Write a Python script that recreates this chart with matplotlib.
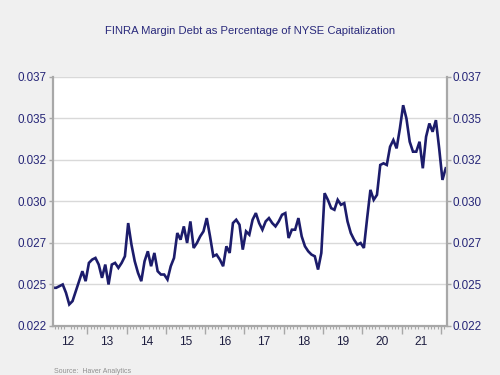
import matplotlib
matplotlib.use("Agg")
import matplotlib.pyplot as plt
import numpy as np
import pandas as pd

# monthly ratio, Feb 2012 .. Feb 2022
start_month = "2012-02"
margin_ratio = [
    0.0248, 0.0248, 0.0249, 0.0250, 0.0245, 0.0238, 0.0240, 0.0246, 0.0252, 0.0258, 0.0252,
    0.0263, 0.0265, 0.0266, 0.0262, 0.0254, 0.0262, 0.0250, 0.0262, 0.0263, 0.0260, 0.0263, 0.0267,
    0.0287, 0.0274, 0.0264, 0.0257, 0.0252, 0.0264, 0.0270, 0.0261, 0.0269, 0.0258, 0.0256, 0.0256,
    0.0253, 0.0261, 0.0266, 0.0281, 0.0277, 0.0285, 0.0275, 0.0288, 0.0272, 0.0275, 0.0279, 0.0282,
    0.0290, 0.0279, 0.0267, 0.0268, 0.0265, 0.0261, 0.0273, 0.0269, 0.0287, 0.0289, 0.0286, 0.0271,
    0.0282, 0.0280, 0.0289, 0.0293, 0.0287, 0.0283, 0.0288, 0.0290, 0.0287, 0.0285, 0.0288, 0.0292,
    0.0293, 0.0278, 0.0283, 0.0283, 0.0290, 0.0279, 0.0273, 0.0270, 0.0268, 0.0267, 0.0259, 0.0269,
    0.0305, 0.0301, 0.0296, 0.0295, 0.0301, 0.0298, 0.0299, 0.0288, 0.0281, 0.0277, 0.0274, 0.0275,
    0.0272, 0.0290, 0.0307, 0.0301, 0.0304, 0.0322, 0.0323, 0.0322, 0.0333, 0.0337, 0.0332, 0.0344,
    0.0358, 0.0350, 0.0336, 0.0330, 0.0330, 0.0336, 0.0320, 0.0339, 0.0347, 0.0342, 0.0349, 0.0332,
    0.0313, 0.0320,
]
y_ticks = [0.0225, 0.025, 0.0275, 0.030, 0.0325, 0.035, 0.0375]
y_labels = ["0.022", "0.025", "0.027", "0.030", "0.032", "0.035", "0.037"]
years = list(range(2012, 2022))
year_labels = ["12", "13", "14", "15", "16", "17", "18", "19", "20", "21"]

dates = pd.date_range(start_month, periods=len(margin_ratio), freq="MS")
t = dates.year + (dates.month - 0.5) / 12.0

navy = "#1c1c6b"
label_col = "#262678"
axis_gray = "#a8a8a8"

plt.rcParams["font.family"] = ["Liberation Sans", "DejaVu Sans"]

fig = plt.figure(figsize=(5, 3.75), dpi=100, facecolor="#f0f0f0")
ax = fig.add_axes([0.1054, 0.1307, 0.788, 0.664])
ax.set_facecolor("white")

ax.plot(t, margin_ratio, color=navy, lw=1.9, solid_joinstyle="miter")

# y axis, both sides
ax.set_yticks(y_ticks)
ax.set_yticklabels(y_labels)
ax.tick_params(axis="y", which="both", left=True, right=True, labelleft=True,
               labelright=True, length=3, width=1, color=axis_gray,
               labelsize=8.4, labelcolor=label_col, pad=1.5)
ax.grid(axis="y", color="#d9d9d9", lw=1)
ax.set_axisbelow(True)

# x axis: labels in middle of each year, monthly minor ticks
ax.set_xticks([y + 0.5 for y in years])
ax.set_xticklabels(year_labels)
ax.set_xticks(np.arange(2012, 2022.2, 1 / 12.0), minor=True)
ax.tick_params(axis="x", which="major", length=0, labelsize=8.6,
               labelcolor="#1e1e40", pad=7)
ax.tick_params(axis="x", which="minor", length=2.5, width=0.8, color=axis_gray)

sec = ax.secondary_xaxis("bottom")
sec.set_xticks(list(range(2013, 2023)))
sec.tick_params(length=6, width=1, color=axis_gray, labelbottom=False)
sec.spines["bottom"].set_visible(False)

# limits last, set_xticks would widen them
ax.set_xlim(2012.12, 2022.15)
ax.set_ylim(0.0225, 0.0375)

for side in ["left", "right", "bottom"]:
    ax.spines[side].set_color(axis_gray)
    ax.spines[side].set_linewidth(1.6)
ax.spines["top"].set_visible(False)

fig.text(0.5, 0.918, "FINRA Margin Debt as Percentage of NYSE Capitalization",
         ha="center", va="center", fontsize=8.1, color="#2a2a7c")
fig.text(0.108, 0.0, "Source:  Haver Analytics", ha="left", va="bottom",
         fontsize=5, color="#909090")

fig.savefig("out.png", dpi=100, facecolor=fig.get_facecolor())
